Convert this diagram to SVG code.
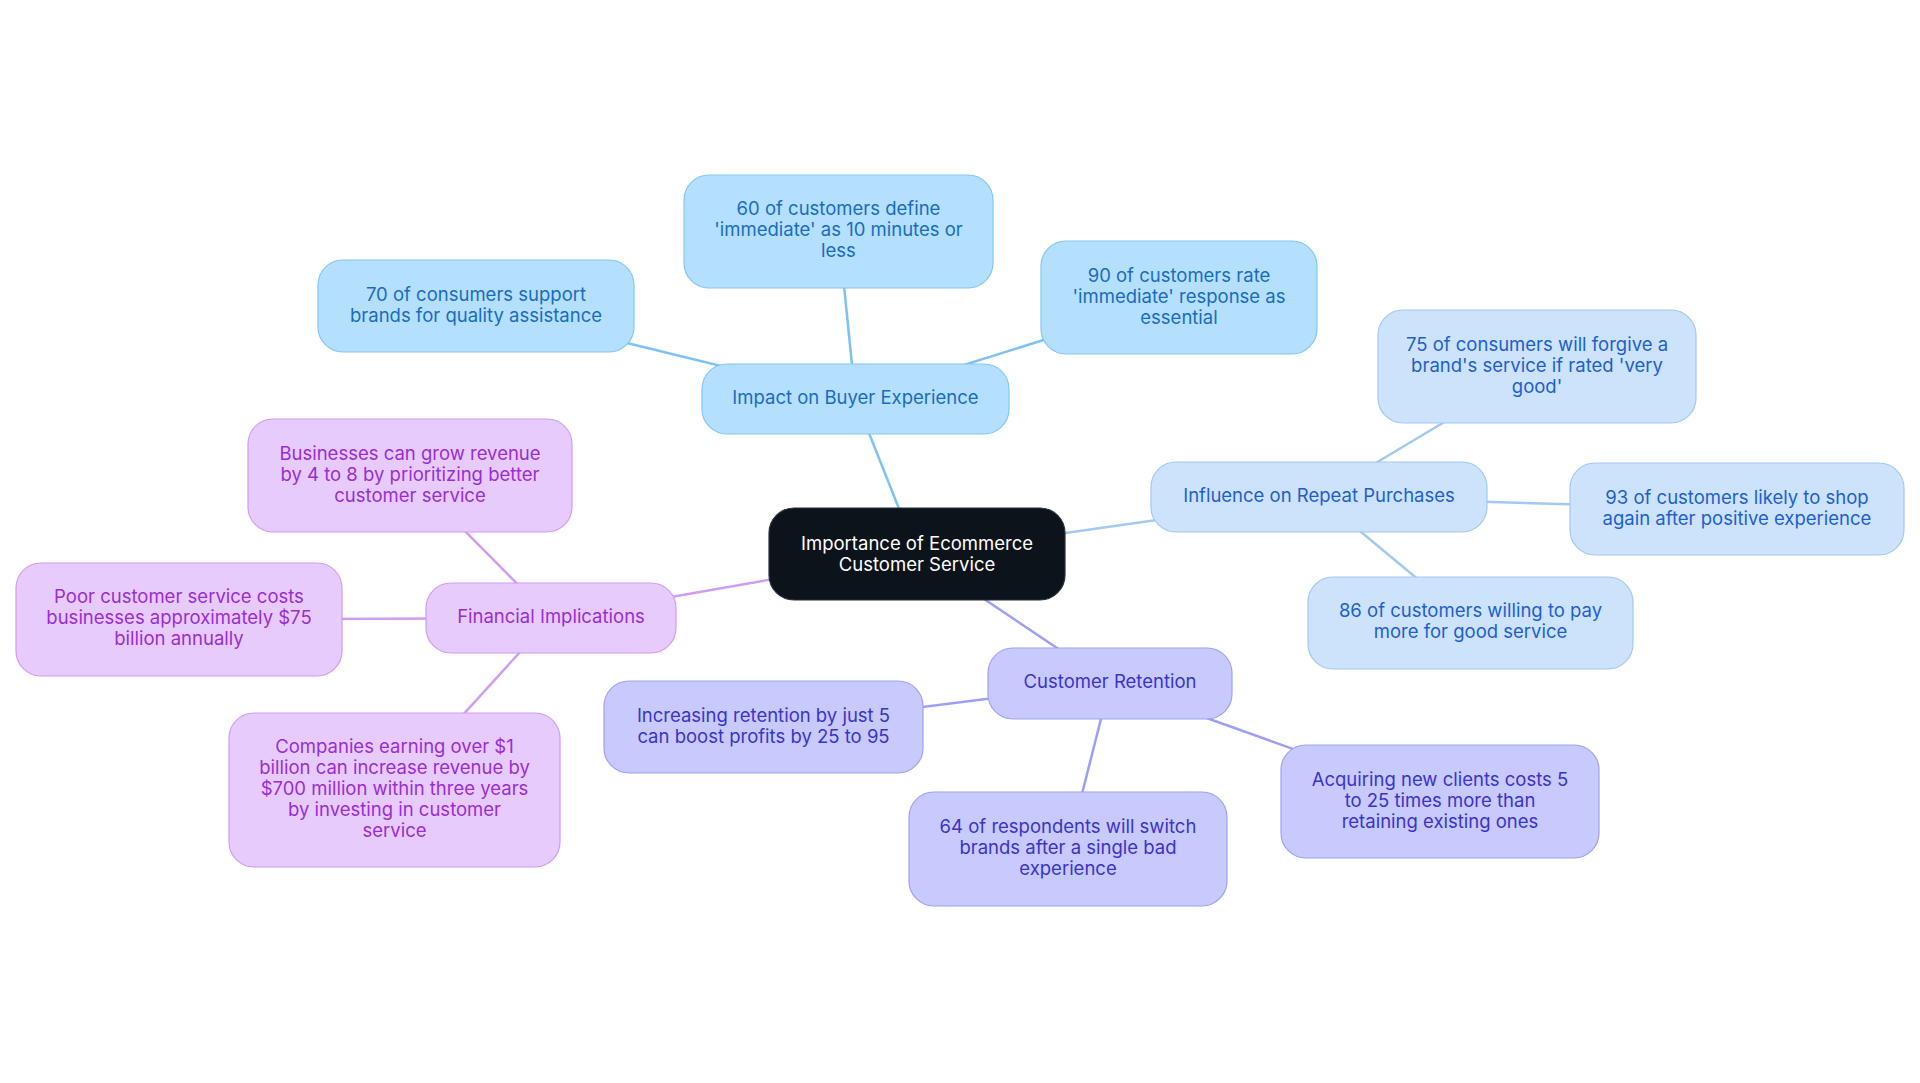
<svg xmlns="http://www.w3.org/2000/svg" width="1920" height="1083" viewBox="0 0 1920 1083">
<style>
text{font-family:Inter,"Noto Sans","Liberation Sans",sans-serif;font-size:18.5px;text-anchor:middle;dominant-baseline:central}
.c line{stroke-width:2.5;fill:none}
.lb{stroke:#7dc2f2}.lb2{stroke:#a2c9f2}.lr{stroke:#9c9ff3}.lp{stroke:#cf9cf2}
.nb rect{fill:#b4e0fd;stroke:#84c6f4;stroke-width:1.2}.nb text{fill:#1a6cc2}
.nl rect{fill:#cde3fb;stroke:#a3c7f2;stroke-width:1.2}.nl text{fill:#1d60cf}
.nr rect{fill:#c8cafd;stroke:#9ea1f4;stroke-width:1.2}.nr text{fill:#3b34c9}
.np rect{fill:#e8cbfd;stroke:#d09cf2;stroke-width:1.2}.np text{fill:#992ed6}
.root rect{fill:#0d131b;stroke:#2b313a;stroke-width:1.2}.root text{fill:#ffffff}
</style>
<rect width="1920" height="1083" fill="#ffffff"/>
<g id="connectors" class="c">
<line class="lb" x1="917" y1="554" x2="855.5" y2="399"/>
<line class="lb" x1="855.5" y1="399" x2="476" y2="306"/>
<line class="lb" x1="855.5" y1="399" x2="838.5" y2="231.5"/>
<line class="lb" x1="855.5" y1="399" x2="1179" y2="297.5"/>
<line class="lb2" x1="917" y1="554" x2="1319" y2="497"/>
<line class="lb2" x1="1319" y1="497" x2="1537" y2="366.5"/>
<line class="lb2" x1="1319" y1="497" x2="1737" y2="509"/>
<line class="lb2" x1="1319" y1="497" x2="1470.5" y2="623"/>
<line class="lr" x1="917" y1="554" x2="1110" y2="683.5"/>
<line class="lr" x1="1110" y1="683.5" x2="763.5" y2="727"/>
<line class="lr" x1="1110" y1="683.5" x2="1068" y2="849"/>
<line class="lr" x1="1110" y1="683.5" x2="1440" y2="801.5"/>
<line class="lp" x1="917" y1="554" x2="551" y2="618"/>
<line class="lp" x1="551" y1="618" x2="410" y2="475.5"/>
<line class="lp" x1="551" y1="618" x2="179" y2="619.5"/>
<line class="lp" x1="551" y1="618" x2="394.5" y2="790"/>
</g>
<g id="root" class="root"><rect x="769" y="508" width="296" height="92" rx="25"/>
<text x="917" y="543">Importance of Ecommerce</text><text x="917" y="564">Customer Service</text></g>
<g id="impact" class="nb"><rect x="702" y="364" width="307" height="70" rx="25"/>
<text x="855.5" y="397">Impact on Buyer Experience</text></g>
<g id="n70" class="nb"><rect x="318" y="260" width="316" height="92" rx="25"/>
<text x="476" y="294">70 of consumers support</text><text x="476" y="315">brands for quality assistance</text></g>
<g id="n60" class="nb"><rect x="684" y="175" width="309" height="113" rx="25"/>
<text x="838.5" y="208">60 of customers define</text><text x="838.5" y="229">'immediate' as 10 minutes or</text><text x="838.5" y="250">less</text></g>
<g id="n90" class="nb"><rect x="1041" y="241" width="276" height="113" rx="25"/>
<text x="1179" y="275">90 of customers rate</text><text x="1179" y="296">'immediate' response as</text><text x="1179" y="317">essential</text></g>
<g id="influence" class="nl"><rect x="1151" y="462" width="336" height="70" rx="25"/>
<text x="1319" y="495">Influence on Repeat Purchases</text></g>
<g id="n75" class="nl"><rect x="1378" y="310" width="318" height="113" rx="25"/>
<text x="1537" y="344">75 of consumers will forgive a</text><text x="1537" y="365">brand's service if rated 'very</text><text x="1537" y="386">good'</text></g>
<g id="n93" class="nl"><rect x="1570" y="463" width="334" height="92" rx="25"/>
<text x="1737" y="497">93 of customers likely to shop</text><text x="1737" y="518">again after positive experience</text></g>
<g id="n86" class="nl"><rect x="1308" y="577" width="325" height="92" rx="25"/>
<text x="1470.5" y="610">86 of customers willing to pay</text><text x="1470.5" y="631">more for good service</text></g>
<g id="retention" class="nr"><rect x="988" y="648" width="244" height="71" rx="25"/>
<text x="1110" y="681">Customer Retention</text></g>
<g id="increasing" class="nr"><rect x="604" y="681" width="319" height="92" rx="25"/>
<text x="763.5" y="715">Increasing retention by just 5</text><text x="763.5" y="736">can boost profits by 25 to 95</text></g>
<g id="n64" class="nr"><rect x="909" y="792" width="318" height="114" rx="25"/>
<text x="1068" y="826">64 of respondents will switch</text><text x="1068" y="847">brands after a single bad</text><text x="1068" y="868">experience</text></g>
<g id="acquiring" class="nr"><rect x="1281" y="745" width="318" height="113" rx="25"/>
<text x="1440" y="779">Acquiring new clients costs 5</text><text x="1440" y="800">to 25 times more than</text><text x="1440" y="821">retaining existing ones</text></g>
<g id="financial" class="np"><rect x="426" y="583" width="250" height="70" rx="25"/>
<text x="551" y="616">Financial Implications</text></g>
<g id="businesses" class="np"><rect x="248" y="419" width="324" height="113" rx="25"/>
<text x="410" y="453">Businesses can grow revenue</text><text x="410" y="474">by 4 to 8 by prioritizing better</text><text x="410" y="495">customer service</text></g>
<g id="poor" class="np"><rect x="16" y="563" width="326" height="113" rx="25"/>
<text x="179" y="596">Poor customer service costs</text><text x="179" y="617">businesses approximately $75</text><text x="179" y="638">billion annually</text></g>
<g id="companies" class="np"><rect x="229" y="713" width="331" height="154" rx="25"/>
<text x="394.5" y="746">Companies earning over $1</text><text x="394.5" y="767">billion can increase revenue by</text><text x="394.5" y="788">$700 million within three years</text><text x="394.5" y="809">by investing in customer</text><text x="394.5" y="830">service</text></g>
</svg>
